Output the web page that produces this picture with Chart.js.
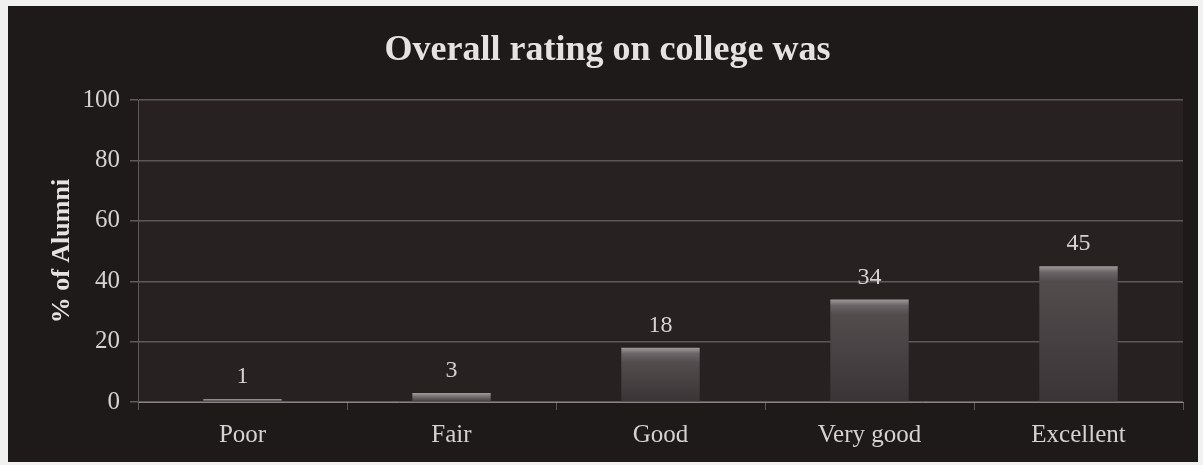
<!DOCTYPE html>
<html>
<head>
<meta charset="utf-8">
<script src="https://cdn.jsdelivr.net/npm/chart.js@4/dist/chart.umd.min.js"></script>
<style>
  body { margin: 0; background: #f1f1ef; }
  #wrap { position: absolute; left: 8px; top: 6px; width: 1190px; height: 456px; background: #1e1a1a; }
</style>
</head>
<body>
<div id="wrap"><canvas id="rating" width="1190" height="456"></canvas></div>
<script>
// data
const categories = ["Poor", "Fair", "Good", "Very good", "Excellent"];
const alumniPct = [1, 3, 18, 34, 45];
const yTicks = [0, 20, 40, 60, 80, 100];

const serif = "'Liberation Serif', 'Times New Roman', serif";
const textColor = "#d6d2d2";
const lineColor = "#5e585a";

// plot background
const plotBg = {
  id: "plotBg",
  beforeDraw(chart) {
    const { ctx, chartArea: a } = chart;
    ctx.save();
    ctx.fillStyle = "#272122";
    ctx.fillRect(a.left, a.top, a.right - a.left, a.bottom - a.top);
    ctx.restore();
  },
};

// value labels above bars
const valueLabels = {
  id: "valueLabels",
  afterDatasetsDraw(chart) {
    const { ctx } = chart;
    const meta = chart.getDatasetMeta(0);
    ctx.save();
    ctx.fillStyle = textColor;
    ctx.font = "24px " + serif;
    ctx.textAlign = "center";
    ctx.textBaseline = "bottom";
    meta.data.forEach((bar, i) => {
      ctx.fillText(String(alumniPct[i]), bar.x, bar.y - 10);
    });
    ctx.restore();
  },
};

function barFill(c) {
  const chart = c.chart;
  if (!chart.chartArea || c.raw == null) return "#4a4446";
  const y = chart.scales.y;
  const top = y.getPixelForValue(c.raw);
  const base = y.getPixelForValue(0);
  const h = Math.max(base - top, 1);
  const g = chart.ctx.createLinearGradient(0, top, 0, base);
  const hl = Math.min(6 / h, 0.5);
  g.addColorStop(0, "#a29c9d");
  g.addColorStop(hl, "#6c6567");
  g.addColorStop(Math.min(hl * 2.5, 0.8), "#534c4d");
  g.addColorStop(1, "#3a3436");
  return g;
}

const ctx = document.getElementById("rating").getContext("2d");
const ratingChart = new Chart(ctx, {
  type: "bar",
  data: {
    labels: categories,
    datasets: [
      {
        data: alumniPct,
        backgroundColor: barFill,
        borderWidth: 0,
        barPercentage: 0.75,
        categoryPercentage: 0.5,
      },
    ],
  },
  options: {
    responsive: false,
    animation: false,
    layout: { padding: { left: 24, right: 15, top: 0, bottom: 0 } },
    plugins: {
      legend: { display: false },
      tooltip: { enabled: false },
      title: {
        display: true,
        text: "Overall rating on college was",
        color: "#e6e2e2",
        font: { family: serif, size: 36, weight: "bold" },
        padding: { top: 23, bottom: 28 },
      },
    },
    scales: {
      x: {
        afterFit(s) { s.height = 60; },
        grid: {
          display: true,
          offset: true,
          drawOnChartArea: false,
          tickLength: 8,
          color: lineColor,
        },
        border: { color: "#8a8486" },
        ticks: {
          color: textColor,
          font: { family: serif, size: 25 },
          padding: 10,
        },
      },
      y: {
        min: 0,
        max: 100,
        afterFit(s) { s.width = 106; },
        afterBuildTicks(s) { s.ticks = yTicks.map(v => ({ value: v })); },
        grid: { color: lineColor, tickLength: 8, lineWidth: 1.5 },
        border: { color: lineColor },
        ticks: {
          color: textColor,
          font: { family: serif, size: 25 },
          padding: 10,
        },
        title: {
          display: true,
          text: "% of Alumni",
          color: "#e6e2e2",
          font: { family: serif, size: 26, weight: "bold" },
          padding: { top: 15, bottom: 0 },
        },
      },
    },
  },
  plugins: [plotBg, valueLabels],
});
</script>
</body>
</html>
